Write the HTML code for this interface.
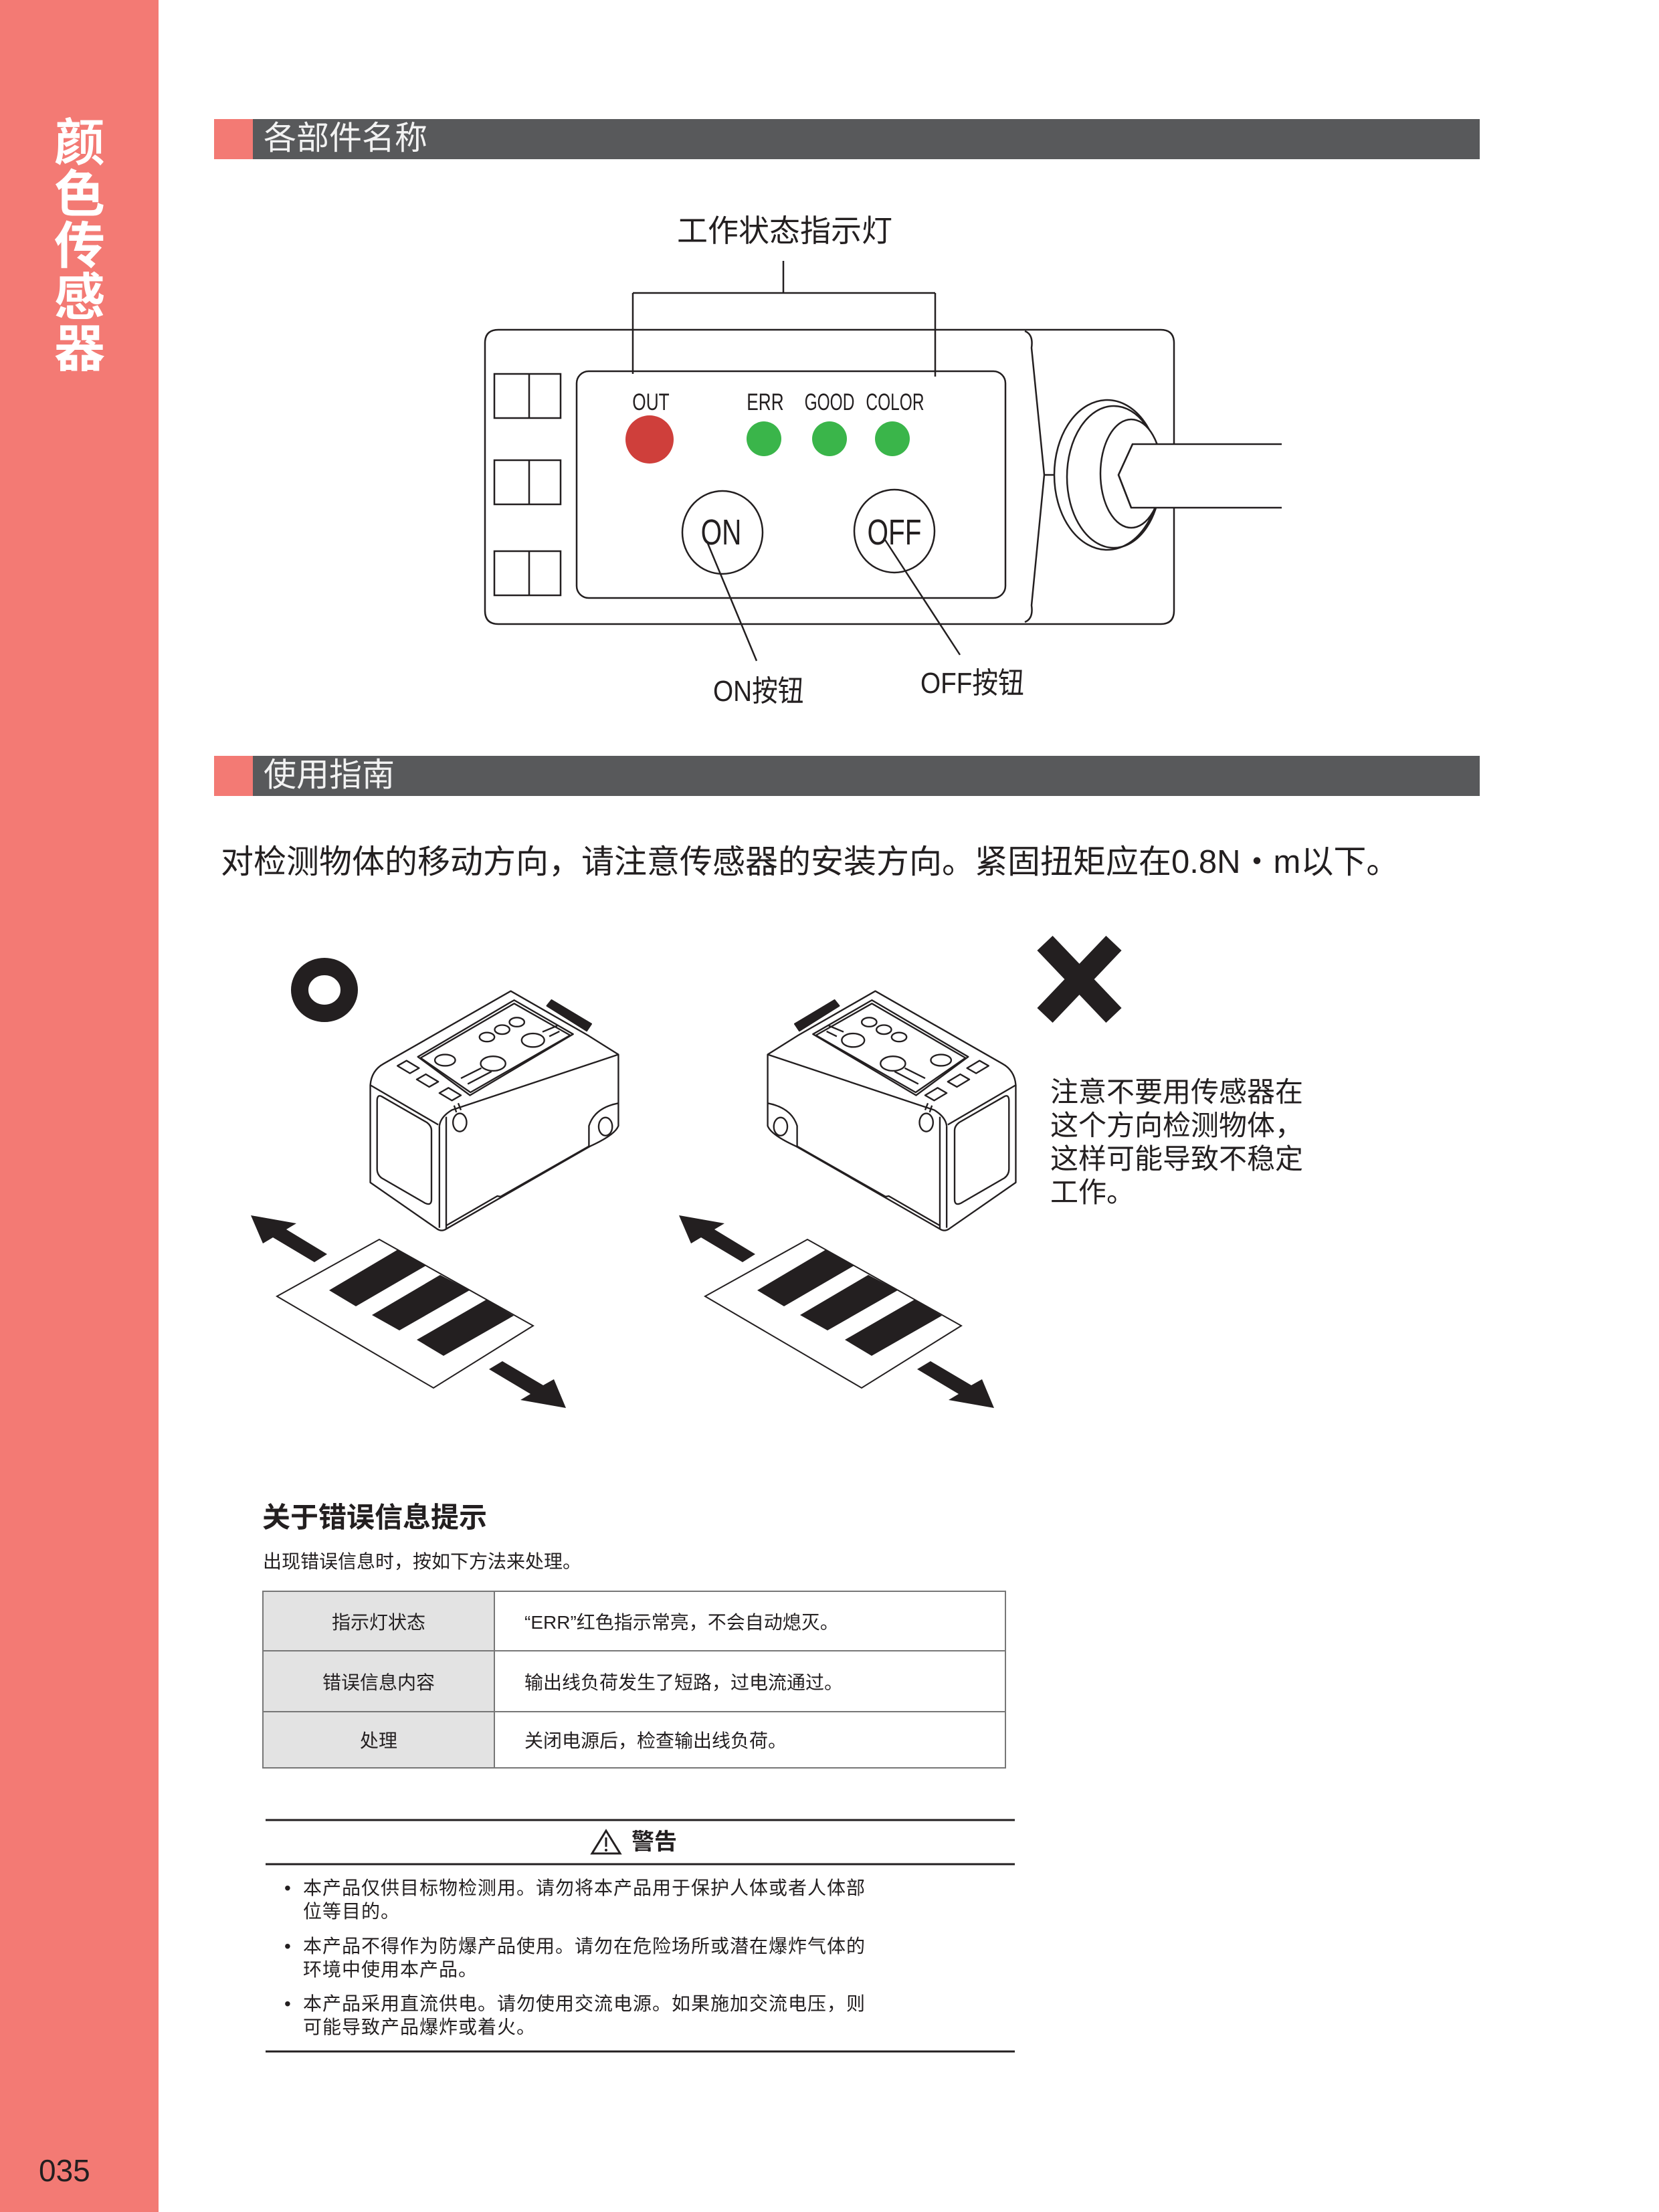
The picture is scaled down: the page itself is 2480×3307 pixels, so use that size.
<!DOCTYPE html>
<html><head><meta charset="utf-8"><style>
*{margin:0;padding:0;box-sizing:border-box}
body{width:2480px;height:3307px;position:relative;background:#fff;font-family:"Liberation Sans","Noto Sans CJK SC",sans-serif;color:#231f20;overflow:hidden}
.a{position:absolute;white-space:nowrap}
.side{position:absolute;left:0;top:0;width:237px;height:3307px;background:#f37a74}
.vt{position:absolute;left:79px;top:176px;width:80px;font-size:76px;line-height:77px;font-weight:bold;color:#fff;text-align:center;white-space:normal}
.bar{position:absolute;left:320px;width:1892px;height:60px;background:#58595b}
.bar i{position:absolute;left:0;top:0;width:58px;height:60px;background:#f37a74}
.bar span{position:absolute;left:74px;top:1px;font-size:49px;line-height:56px;color:#f2f2f2}
table{position:absolute;left:392px;top:2378px;width:1112px;border-collapse:collapse;font-size:28px}
td{border:2px solid #777}
td.l{background:#e3e3e3;width:346px;text-align:center}
td.r{padding-left:44px}
.li{position:absolute;left:453px;font-size:28px;line-height:35px;letter-spacing:1px}
.li b{position:absolute;left:-28px;top:0;font-weight:normal}
.c{transform-origin:left center}
</style></head><body>
<div class="side"></div>
<div class="vt">颜色传感器</div>
<div class="a" style="left:58px;top:3220px;font-size:46px;line-height:50px;color:#231f20">035</div>

<div class="bar" style="top:178px"><i></i><span>各部件名称</span></div>
<div class="bar" style="top:1130px"><i></i><span>使用指南</span></div>

<div class="a" style="left:1012px;top:318px;font-size:46px;line-height:54px">工作状态指示灯</div>

<svg class="a" style="left:0;top:0" width="2480" height="3307" viewBox="0 0 2480 3307">
<g fill="none" stroke="#231f20" stroke-width="2.5">
<path d="M1171,390V438M946,438H1398M946,438V559M1398,438V563"/>
<path d="M745,493H1735Q1755,493 1755,513V913Q1755,933 1735,933H745Q725,933 725,913V513Q725,493 745,493Z"/>
<path d="M1532,495Q1545,500 1542,520L1561,710L1542,905Q1545,925 1532,930"/>
<path d="M1561,710H1576"/>
<rect x="862" y="555" width="641" height="339" rx="18"/>
<rect x="739" y="559" width="99" height="66"/><path d="M791,559V625"/>
<rect x="739" y="688" width="99" height="66"/><path d="M791,688V754"/>
<rect x="739" y="824" width="99" height="66"/><path d="M791,824V890"/>
<ellipse cx="1080" cy="796" rx="60" ry="62"/>
<ellipse cx="1337" cy="794" rx="60" ry="62"/>
<path d="M1057,810L1131,988M1321,804L1435,979"/>
<ellipse cx="1655" cy="710" rx="79" ry="112" fill="#fff"/>
<ellipse cx="1665" cy="713" rx="70" ry="106"/>
<ellipse cx="1691" cy="708" rx="46" ry="81" fill="#fff"/>
<path d="M1916,664H1693L1672,710L1691,759H1916" fill="#fff"/>
<path d="M1693,664L1672,710L1691,759"/>
</g>
<ellipse cx="971" cy="657" rx="36" ry="36" fill="#cf3f3b"/>
<circle cx="1142" cy="656" r="26" fill="#3ab54a"/>
<circle cx="1240" cy="656" r="26" fill="#3ab54a"/>
<circle cx="1334" cy="656" r="26" fill="#3ab54a"/>

<ellipse cx="485" cy="1480" rx="37" ry="35" fill="none" stroke="#231f20" stroke-width="26"/>
<g stroke="#231f20" stroke-width="32"><path d="M1562,1410L1665,1518M1665,1410L1562,1518"/></g>

<defs>
<g id="box" fill="none" stroke="#231f20" stroke-width="7" stroke-linejoin="round">
<path d="M100,325L660,5L1000,200L1135,285V600Q1120,640 1010,690L375,1055Q355,1068 335,1055L40,850V420Q45,355 100,325Z" fill="#fff"/>
<path d="M40,420L340,595"/>
<path d="M345,600Q350,560 400,530L1135,285"/>
<path d="M375,560V1055M345,600V1050"/>
<path d="M90,470L290,585Q310,600 310,620V925Q310,955 280,940L90,830Q70,815 70,790V490Q70,460 90,470Z"/>
<path d="M250,295L675,45L935,195L480,465Z"/>
<path d="M262,300L675,60L922,200L482,452Z"/>
<ellipse cx="555" cy="208" rx="33" ry="20"/>
<ellipse cx="622" cy="175" rx="33" ry="20"/>
<ellipse cx="687" cy="142" rx="33" ry="20"/>
<ellipse cx="370" cy="310" rx="45" ry="25"/>
<ellipse cx="582" cy="325" rx="55" ry="32"/>
<ellipse cx="758" cy="222" rx="50" ry="30"/>
<path d="M440,390L530,345M470,415L575,360M800,185L865,158M830,205L875,183"/>
<path d="M160,335L200,312L255,345L215,368ZM245,395L285,372L340,405L300,428ZM345,455L385,432L440,465L400,488Z"/>
<path d="M410,510L420,540M428,500L440,530"/>
<path d="M820,70L840,45L1015,150L995,180Z" fill="#231f20"/>
<ellipse cx="435" cy="585" rx="30" ry="40"/>
<ellipse cx="1078" cy="603" rx="30" ry="40"/>
<path d="M1005,690V600Q1030,520 1135,500"/>
<path d="M375,1040L600,910L615,912L1005,690"/>
</g>
<g id="card" fill="#231f20">
<path d="M414,1938L567,1853L797,1982L648,2075Z" fill="#fff" stroke="#231f20" stroke-width="2"/>
<path d="M492,1929L595,1868L637,1892L532,1953Z"/>
<path d="M556,1966L658,1906L702,1929L597,1989Z"/>
<path d="M623,2003L727,1943L768,1967L663,2027Z"/>
<path d="M489,1875L470,1887L408,1850L393,1859L375,1817L443,1829L428,1838Z"/>
<path d="M731,2047L751,2035L812,2071L828,2062L846,2105L778,2093L793,2084Z"/>
</g>
</defs>
<use href="#box" transform="translate(540,1480) scale(0.3387)"/>
<use href="#box" transform="translate(1532,1480) scale(-0.3387,0.3387)"/>
<use href="#card"/>
<use href="#card" transform="translate(640,0)"/>

<g stroke="#231f20" stroke-width="3"><path d="M397,2721H1517M397,2787H1517M397,3067H1517"/></g>
<g fill="none" stroke="#231f20" stroke-width="3"><path d="M906,2737L927,2771H885Z"/></g>
<path d="M906,2747V2761" stroke="#231f20" stroke-width="3"/><circle cx="906" cy="2766" r="2" fill="#231f20"/>
</svg>

<div class="a" style="left:973px;top:582px;font-size:35px;line-height:40px;transform:translateX(-50%) scaleX(.75)">OUT</div>
<div class="a" style="left:1144px;top:582px;font-size:35px;line-height:40px;transform:translateX(-50%) scaleX(.75)">ERR</div>
<div class="a" style="left:1240px;top:582px;font-size:35px;line-height:40px;transform:translateX(-50%) scaleX(.7)">GOOD</div>
<div class="a" style="left:1338px;top:582px;font-size:35px;line-height:40px;transform:translateX(-50%) scaleX(.7)">COLOR</div>
<div class="a" style="left:1078px;top:766px;font-size:54px;line-height:60px;transform:translateX(-50%) scaleX(.75)">ON</div>
<div class="a" style="left:1337px;top:766px;font-size:54px;line-height:60px;transform:translateX(-50%) scaleX(.75)">OFF</div>
<div class="a c" style="left:1066px;top:1008px;font-size:44px;line-height:52px;transform:scaleX(.88)">ON按钮</div>
<div class="a c" style="left:1376px;top:996px;font-size:44px;line-height:52px;transform:scaleX(.88)">OFF按钮</div>

<div class="a" style="left:330px;top:1259px;font-size:49px;line-height:60px">对检测物体的移动方向，请注意传感器的安装方向。紧固扭矩应在0.8N・m以下。</div>

<div class="a" style="left:1570px;top:1608px;font-size:42px;line-height:50px;white-space:normal;width:420px">注意不要用传感器在<br>这个方向检测物体，<br>这样可能导致不稳定<br>工作。</div>

<div class="a" style="left:392px;top:2244px;font-size:42px;line-height:50px;font-weight:bold">关于错误信息提示</div>
<div class="a" style="left:393px;top:2317px;font-size:28px;line-height:36px">出现错误信息时，按如下方法来处理。</div>
<table>
<tr><td class="l" style="height:89px">指示灯状态</td><td class="r">“ERR”红色指示常亮，不会自动熄灭。</td></tr>
<tr><td class="l" style="height:91px">错误信息内容</td><td class="r">输出线负荷发生了短路，过电流通过。</td></tr>
<tr><td class="l" style="height:84px">处理</td><td class="r">关闭电源后，检查输出线负荷。</td></tr>
</table>

<div class="a" style="left:944px;top:2732px;font-size:34px;line-height:44px;font-weight:bold">警告</div>
<div class="li" style="top:2805px"><b>•</b>本产品仅供目标物检测用。请勿将本产品用于保护人体或者人体部<br>位等目的。</div>
<div class="li" style="top:2892px"><b>•</b>本产品不得作为防爆产品使用。请勿在危险场所或潜在爆炸气体的<br>环境中使用本产品。</div>
<div class="li" style="top:2978px"><b>•</b>本产品采用直流供电。请勿使用交流电源。如果施加交流电压，则<br>可能导致产品爆炸或着火。</div>
</body></html>
